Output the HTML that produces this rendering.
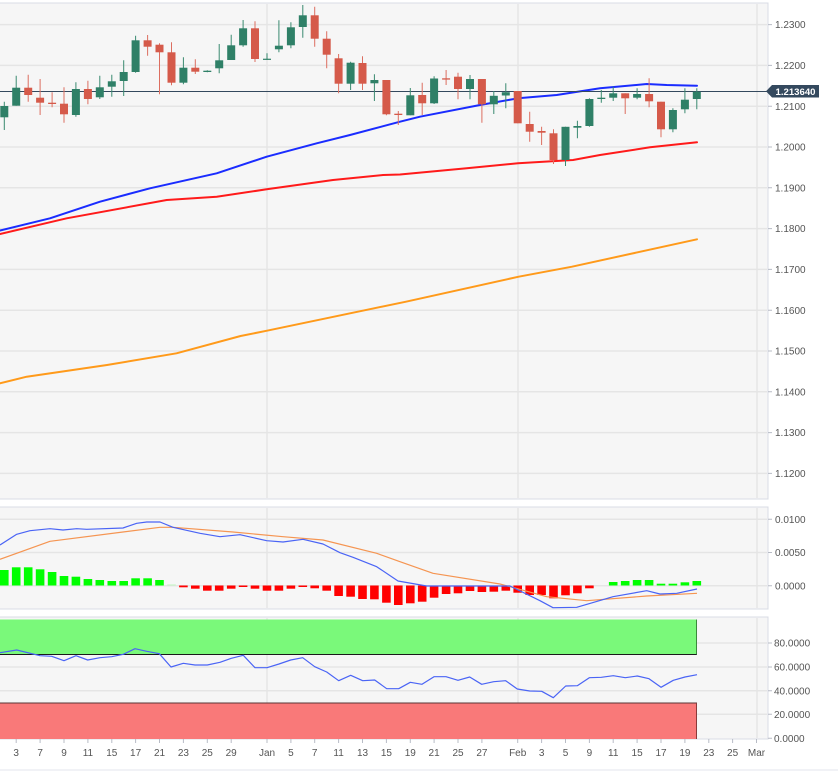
<!DOCTYPE html>
<html><head><meta charset="utf-8"><style>
html,body{margin:0;padding:0;background:#fff;width:838px;height:773px;overflow:hidden}
svg{display:block}
text{font-family:"Liberation Sans",Arial,sans-serif;font-size:10px;fill:#555}
</style></head><body>
<svg width="838" height="773" viewBox="0 0 838 773" xmlns="http://www.w3.org/2000/svg">
<rect x="0" y="0" width="838" height="773" fill="#fff"/>
<!-- panels -->
<rect x="-1" y="3" width="769" height="496" fill="#f6f6f6" stroke="#d9dce5" stroke-width="1"/>
<rect x="-1" y="507" width="769" height="102" fill="#f6f6f6" stroke="#d9dce5" stroke-width="1"/>
<rect x="-1" y="617" width="769" height="122" fill="#f6f6f6" stroke="#d9dce5" stroke-width="1"/>
<!-- main grid -->
<g stroke="#e5e5e5" stroke-width="1.5">
<path d="M0 24.6H767M0 65.4H767M0 106.2H767M0 147H767M0 187.8H767M0 228.6H767M0 269.4H767M0 310.2H767M0 351H767M0 391.8H767M0 432.6H767M0 473.4H767"/>
<path d="M267 4V498M518 4V498M757 4V498"/>
<path d="M0 519.3H767M0 552.5H767M0 585.7H767"/>
<path d="M267 508V608M518 508V608M757 508V608"/>
<path d="M0 643H767M0 667H767M0 690.7H767M0 714.3H767"/>
<path d="M267 618V738M518 618V738M757 618V738"/>
</g>
<!-- axis ticks -->
<g stroke="#b8bcc6" stroke-width="1">
<path d="M768 24.6h4M768 65.4h4M768 106.2h4M768 147h4M768 187.8h4M768 228.6h4M768 269.4h4M768 310.2h4M768 351h4M768 391.8h4M768 432.6h4M768 473.4h4"/>
<path d="M768 519.3h4M768 552.5h4M768 585.7h4"/>
<path d="M768 643h4M768 667h4M768 690.7h4M768 714.3h4M768 738.3h4"/>
<path d="M16.2 739v4M40.1 739v4M64 739v4M87.9 739v4M111.8 739v4M135.6 739v4M159.5 739v4M183.4 739v4M207.3 739v4M231.2 739v4M267 739v4M290.9 739v4M314.7 739v4M338.6 739v4M362.5 739v4M386.4 739v4M410.3 739v4M434.1 739v4M458 739v4M481.9 739v4M517.7 739v4M541.6 739v4M565.5 739v4M589.4 739v4M613.2 739v4M637.1 739v4M661 739v4M684.9 739v4M708.8 739v4M732.6 739v4M756.5 739v4"/>
</g>
<path d="M0 770H838" stroke="#e3e6ec" stroke-width="1"/>
<!-- y labels -->
<g>
<text x="775" y="28.2">1.2300</text>
<text x="775" y="69">1.2200</text>
<text x="775" y="109.8">1.2100</text>
<text x="775" y="150.6">1.2000</text>
<text x="775" y="191.4">1.1900</text>
<text x="775" y="232.2">1.1800</text>
<text x="775" y="273">1.1700</text>
<text x="775" y="313.8">1.1600</text>
<text x="775" y="354.6">1.1500</text>
<text x="775" y="395.4">1.1400</text>
<text x="775" y="436.2">1.1300</text>
<text x="775" y="477">1.1200</text>
<text x="775" y="522.9">0.0100</text>
<text x="775" y="556.1">0.0050</text>
<text x="775" y="589.3">0.0000</text>
<text x="774" y="646.6">80.0000</text>
<text x="774" y="670.6">60.0000</text>
<text x="774" y="694.3">40.0000</text>
<text x="774" y="717.9">20.0000</text>
<text x="774" y="741.9">0.0000</text>
</g>
<!-- x labels -->
<g text-anchor="middle">
<text x="16.2" y="756">3</text><text x="40.1" y="756">7</text><text x="64" y="756">9</text><text x="87.9" y="756">11</text><text x="111.8" y="756">15</text><text x="135.6" y="756">17</text><text x="159.5" y="756">21</text><text x="183.4" y="756">23</text><text x="207.3" y="756">25</text><text x="231.2" y="756">29</text><text x="267" y="756">Jan</text><text x="290.9" y="756">5</text><text x="314.7" y="756">7</text><text x="338.6" y="756">11</text><text x="362.5" y="756">13</text><text x="386.4" y="756">15</text><text x="410.3" y="756">19</text><text x="434.1" y="756">21</text><text x="458" y="756">25</text><text x="481.9" y="756">27</text><text x="517.7" y="756">Feb</text><text x="541.6" y="756">3</text><text x="565.5" y="756">5</text><text x="589.4" y="756">9</text><text x="613.2" y="756">11</text><text x="637.1" y="756">15</text><text x="661" y="756">17</text><text x="684.9" y="756">19</text><text x="708.8" y="756">23</text><text x="732.6" y="756">25</text><text x="756.5" y="756">Mar</text>
</g>
<!-- moving averages -->
<g fill="none" stroke-width="2" stroke-linejoin="round" stroke-linecap="round">
<polyline stroke="#ff9a1a" points="0,383.3 26.7,376.7 107,365 176.5,353.3 240.6,336 267,330.7 374,308.3 406,301.7 518.7,276.7 572,266.7 697,239.3"/>
<polyline stroke="#ff1a1a" points="0,234 66.7,218.3 166.7,200 216.7,196.7 266.7,189.3 333,180 383,175 400,174.5 466.7,168.3 518,163.3 573,160 600,155 650,147.3 697,142.3"/>
<polyline stroke="#1a2cff" points="0,230.5 50,218.3 100,201.7 150,188.3 216.7,173.3 266.7,156.7 316.7,143.3 350,135 400,121.7 420,116.7 480,105 518,98.3 556.7,95 600,88.3 646.7,84 666.7,85 697,85.7"/>
</g>
<!-- current price line -->
<path d="M0 91.5H768" stroke="#34495e" stroke-width="1"/>
<!-- candles -->
<path fill="none" stroke="#3a8a70" stroke-width="1" d="M4.3 101.7V130 M16.2 75.7V105.7 M75.9 82.3V116.7 M99.8 75.7V99 M111.8 74.7V96.7 M123.7 60.3V96 M135.6 35.7V72.7 M183.4 57.3V84.3 M207.3 70.3V72.3 M219.2 44V73.3 M231.2 34.7V60 M243.1 20V46.7 M267 53.3V59.7 M278.9 20.3V52.3 M290.9 22.3V48.3 M302.8 5V37.7 M350.6 61.7V90 M374.4 74.3V101 M410.3 88V115.3 M434.1 76.3V104 M470 75V99.3 M493.8 91V114 M505.8 83.3V108.3 M565.5 126.7V166 M577.4 120.7V138.3 M589.4 98.3V126.7 M601.3 90V102.7 M613.2 86.7V101 M637.1 88.3V99.3 M672.9 108.3V132.3 M684.9 88.3V113.3 M696.8 88.3V109.3"/>
<path fill="none" stroke="#dc6e60" stroke-width="1" d="M28.2 74.7V101.7 M40.1 79V115 M52.1 92.3V107.3 M64 87.3V122.7 M87.9 80.7V104.3 M147.6 35V55.7 M159.5 43.3V94.3 M171.5 42.3V85.3 M195.3 59.3V74 M255 21.3V62 M314.7 6.7V46.7 M326.7 31.3V68.3 M338.6 54V93.3 M362.5 56.3V90 M386.4 80V115.3 M398.3 111V125 M422.2 82.7V115 M446.1 70V85 M458 72.7V99.3 M481.9 79V122.7 M517.7 91V123.3 M529.7 111.7V141.7 M541.6 126.7V145 M553.5 129.3V164 M625.2 93.3V114 M649.1 78.3V107.3 M661 101.7V137.3"/>
<g fill="#2f8067">
<rect x="0.3" y="106" width="8" height="11.3"/><rect x="12.2" y="87.7" width="8" height="18"/><rect x="71.9" y="89" width="8" height="26"/><rect x="95.8" y="87.3" width="8" height="10"/><rect x="107.8" y="81.3" width="8" height="5.4"/><rect x="119.7" y="72" width="8" height="9"/><rect x="131.6" y="40.3" width="8" height="31.7"/><rect x="179.4" y="67.7" width="8" height="15"/><rect x="203.3" y="70.7" width="8" height="1.3"/><rect x="215.2" y="60.3" width="8" height="8"/><rect x="227.2" y="45.3" width="8" height="14.7"/><rect x="239.1" y="28.3" width="8" height="17"/><rect x="263" y="58.7" width="8" height="1.2"/><rect x="274.9" y="45.7" width="8" height="3.6"/><rect x="286.9" y="27.3" width="8" height="18"/><rect x="298.8" y="15.3" width="8" height="11.7"/><rect x="346.6" y="62.7" width="8" height="21"/><rect x="370.4" y="80" width="8" height="3.3"/><rect x="406.3" y="95.3" width="8" height="20"/><rect x="430.1" y="78.5" width="8" height="24.8"/><rect x="466" y="79" width="8" height="10"/><rect x="489.8" y="95.8" width="8" height="8.5"/><rect x="501.8" y="92.2" width="8" height="3.3"/><rect x="561.5" y="126.8" width="8" height="33.2"/><rect x="573.4" y="126" width="8" height="1.7"/><rect x="585.4" y="99" width="8" height="27"/><rect x="597.3" y="97.7" width="8" height="1.3"/><rect x="609.2" y="93.3" width="8" height="4.4"/><rect x="633.1" y="94" width="8" height="3.7"/><rect x="668.9" y="110" width="8" height="19.3"/><rect x="680.9" y="99.7" width="8" height="9.6"/><rect x="692.8" y="91.7" width="8" height="7.3"/>
</g>
<g fill="#d55a4a">
<rect x="24.2" y="87.7" width="8" height="7.3"/><rect x="36.1" y="97.7" width="8" height="5"/><rect x="48.1" y="102.7" width="8" height="1.3"/><rect x="60" y="103.7" width="8" height="10.6"/><rect x="83.9" y="89" width="8" height="10"/><rect x="143.6" y="40.3" width="8" height="6.4"/><rect x="155.5" y="44.7" width="8" height="7.6"/><rect x="167.5" y="52.3" width="8" height="30.4"/><rect x="191.3" y="67.7" width="8" height="4"/><rect x="251" y="28.3" width="8" height="30.7"/><rect x="310.7" y="15.3" width="8" height="23.4"/><rect x="322.7" y="38.7" width="8" height="16"/><rect x="334.6" y="58.3" width="8" height="25.4"/><rect x="358.5" y="63" width="8" height="20.7"/><rect x="382.4" y="80" width="8" height="34.3"/><rect x="394.3" y="113.7" width="8" height="1.3"/><rect x="418.2" y="95" width="8" height="8.3"/><rect x="442.1" y="78.3" width="8" height="1.3"/><rect x="454" y="76.7" width="8" height="12.3"/><rect x="477.9" y="79" width="8" height="25.3"/><rect x="513.7" y="91" width="8" height="32.3"/><rect x="525.7" y="124" width="8" height="7.7"/><rect x="537.6" y="131" width="8" height="1.7"/><rect x="549.5" y="133.3" width="8" height="26.7"/><rect x="621.2" y="93.3" width="8" height="5"/><rect x="645.1" y="94" width="8" height="7.3"/><rect x="657" y="101.7" width="8" height="27.6"/>
</g>
<!-- price tag -->
<polygon points="766,91.3 772,85 819,85 819,97.5 772,97.5" fill="#34495e"/>
<text x="775.5" y="95" style="fill:#fff;font-weight:bold;font-size:9.6px">1.213640</text>
<!-- MACD histogram -->
<g fill="#00ff00">
<rect x="0" y="570" width="8.6" height="15.5"/><rect x="11.9" y="567.3" width="8.6" height="18.2"/><rect x="23.9" y="567.3" width="8.6" height="18.2"/><rect x="35.8" y="569.3" width="8.6" height="16.2"/><rect x="47.8" y="572" width="8.6" height="13.5"/><rect x="59.7" y="576" width="8.6" height="9.5"/><rect x="71.6" y="576.7" width="8.6" height="8.8"/><rect x="83.6" y="579" width="8.6" height="6.5"/><rect x="95.5" y="580" width="8.6" height="5.5"/><rect x="107.5" y="581" width="8.6" height="4.5"/><rect x="119.4" y="581" width="8.6" height="4.5"/><rect x="131.3" y="578.3" width="8.6" height="7.2"/><rect x="143.3" y="578.3" width="8.6" height="7.2"/><rect x="155.2" y="580" width="8.6" height="5.5"/>
<rect x="608.9" y="582" width="8.6" height="3.5"/><rect x="620.9" y="581" width="8.6" height="4.5"/><rect x="632.8" y="580" width="8.6" height="5.5"/><rect x="644.8" y="580" width="8.6" height="5.5"/><rect x="656.7" y="583.7" width="8.6" height="1.8"/><rect x="668.6" y="583.7" width="8.6" height="1.8"/><rect x="680.6" y="582.3" width="8.6" height="3.2"/><rect x="692.5" y="581" width="8.6" height="4.5"/>
</g>
<rect x="167.2" y="584.5" width="8.6" height="1" fill="#bff5bf"/>
<g fill="#ff0000">
<rect x="179.1" y="585.5" width="8.6" height="1.8"/><rect x="191" y="585.5" width="8.6" height="3.2"/><rect x="203" y="585.5" width="8.6" height="5.2"/><rect x="214.9" y="585.5" width="8.6" height="5.2"/><rect x="226.9" y="585.5" width="8.6" height="3.2"/><rect x="238.8" y="585.5" width="8.6" height="1.5"/><rect x="250.7" y="585.5" width="8.6" height="3.2"/><rect x="262.7" y="585.5" width="8.6" height="5.2"/><rect x="274.6" y="585.5" width="8.6" height="5.2"/><rect x="286.6" y="585.5" width="8.6" height="3.2"/><rect x="298.5" y="585.5" width="8.6" height="1.5"/><rect x="310.4" y="585.5" width="8.6" height="2.8"/><rect x="322.4" y="585.5" width="8.6" height="5.2"/><rect x="334.3" y="585.5" width="8.6" height="10.5"/><rect x="346.3" y="585.5" width="8.6" height="11.2"/><rect x="358.2" y="585.5" width="8.6" height="13.5"/><rect x="370.1" y="585.5" width="8.6" height="13.8"/><rect x="382.1" y="585.5" width="8.6" height="17.2"/><rect x="394" y="585.5" width="8.6" height="19.5"/><rect x="406" y="585.5" width="8.6" height="17.8"/><rect x="417.9" y="585.5" width="8.6" height="16.2"/><rect x="429.8" y="585.5" width="8.6" height="12.2"/><rect x="441.8" y="585.5" width="8.6" height="8.5"/><rect x="453.7" y="585.5" width="8.6" height="7.8"/><rect x="465.7" y="585.5" width="8.6" height="5.5"/><rect x="477.6" y="585.5" width="8.6" height="6.5"/><rect x="489.5" y="585.5" width="8.6" height="6.2"/><rect x="501.5" y="585.5" width="8.6" height="5.2"/><rect x="513.4" y="585.5" width="8.6" height="7.2"/><rect x="525.4" y="585.5" width="8.6" height="9.5"/><rect x="537.3" y="585.5" width="8.6" height="9.5"/><rect x="549.2" y="585.5" width="8.6" height="12.8"/><rect x="561.2" y="585.5" width="8.6" height="9.8"/><rect x="573.1" y="585.5" width="8.6" height="7.8"/><rect x="585.1" y="585.5" width="8.6" height="2.8"/>
</g>
<g fill="none" stroke-width="1.2" stroke-linejoin="round">
<polyline stroke="#f59552" points="0,559.3 50,541.3 123,532 160,527.3 173,527.3 233,532 283,536.7 323,540 376.7,553.3 400,561.7 433,573.3 500,584 546.7,596.7 586.7,600.7 646.7,596 697,593.3"/>
<polyline stroke="#4a64f5" points="0,545 16.7,534.3 30,530.7 50,528.7 63,530 76.7,528.7 86.7,529.3 123,528 136.7,523.3 146.7,522 160,522 173,527.3 200,533.3 220,536.7 240,534.7 266.7,540.7 283,542 303,539.3 323,544 340,552.7 353,557.3 376.7,566.7 398,581 426.7,586 510,586 540,600.7 553,607.7 576.7,607.3 613,596.7 646.7,590.7 660,594 676.7,593.3 697,589"/>
</g>
<!-- RSI bands -->
<rect x="-1" y="619.5" width="698" height="35" fill="#7af97a"/>
<path d="M0 654.5H697" stroke="#1a1a1a" stroke-width="1"/>
<path d="M696.5 619.5V654.5" stroke="#3a8a3a" stroke-width="1"/>
<rect x="-1" y="703" width="698" height="36" fill="#f97979"/>
<path d="M0 703H697" stroke="#5a3535" stroke-width="1"/>
<path d="M696.5 703V739" stroke="#8a3a3a" stroke-width="1"/>
<polyline fill="none" stroke="#4a64f5" stroke-width="1.2" stroke-linejoin="round" points="0,652.7 16.7,650 40,655.7 51.7,656.3 64,660.7 76,655.7 87.7,660 100,657.7 111.7,656.7 123.3,654.3 135,648.7 146.7,651.3 159.3,653.7 171,667 183.3,663.3 195,665 207.3,665 220,662.3 231.3,658.3 243.3,655.3 255,667.7 267,667.7 279,664 290.7,660 302.7,657.7 314.7,666.7 326.7,672 338.7,680.7 350.7,675.3 362.7,680.7 374.7,680 386.7,688.7 398.7,688.7 410.3,682.3 422,684.3 434,676.7 446,676.7 458,680.3 469.7,677 481.7,684.3 493.7,681.7 505.7,680.7 517.3,689 529.7,691 541.7,691.3 553.3,697.7 565.7,686 577.3,685.7 589.3,677.7 601.3,677.3 613.3,675.7 625.3,677.7 637.3,676 649,678.7 661,687.3 673.3,680.3 685,677 697,674.7"/>
</svg>
</body></html>
